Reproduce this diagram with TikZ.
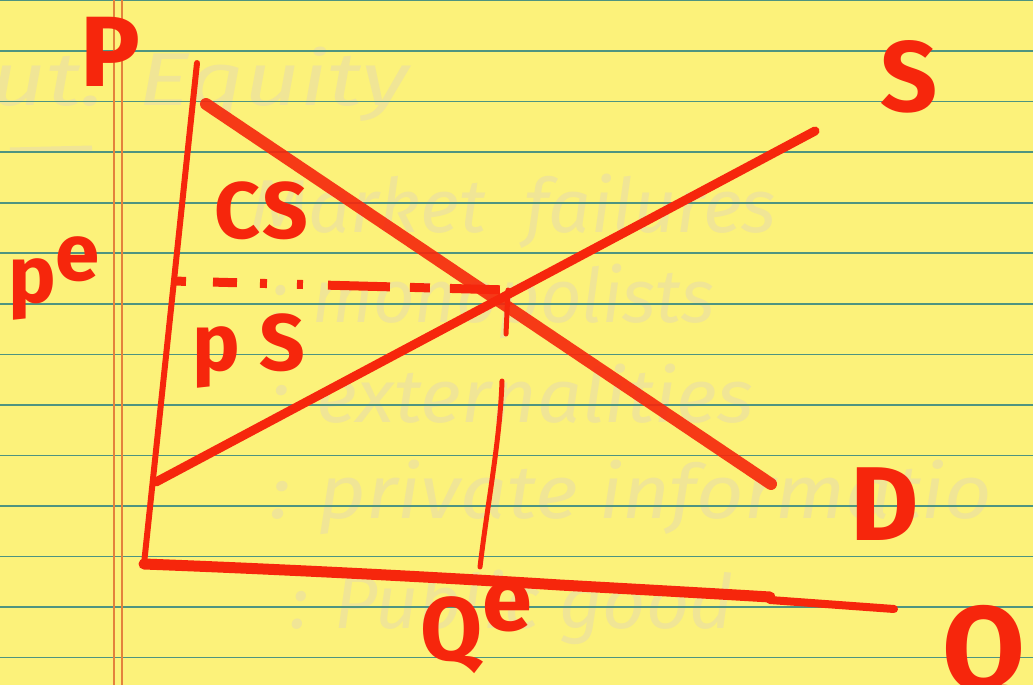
\documentclass[tikz,border=0pt]{standalone}
\usepackage{fontspec}
\setmainfont{Fira Sans}
\definecolor{paper}{RGB}{252,242,122}
\definecolor{rule}{RGB}{78,148,128}
\definecolor{margin}{RGB}{228,130,60}
\definecolor{marker}{RGB}{246,38,12}
\definecolor{ghost}{RGB}{240,229,150}
\tikzset{
  lab/.style={text=marker, inner sep=0pt, font=\bfseries\fontsize{#1}{#1}\selectfont},
  lab/.default=90,
  ghosttext/.style={text=ghost, inner sep=0pt, anchor=base west, transform shape, font=\itshape\fontsize{75}{75}\selectfont},
  pen/.style={draw=marker, line width=#1, line cap=round, line join=round},
  pen/.default=9
}
\begin{document}
\begin{tikzpicture}[x=1pt,y=-1pt]
\clip (0,0) rectangle (1033,685);
\fill[paper] (0,0) rectangle (1033,685);
% ghost (show-through) handwriting
\node[ghosttext, xscale=1.3] (g1) at (-10,105) {ut: Equity};
\draw[ghost, line width=5] (10,150) -- (92,148);
\node[ghosttext, xscale=1.0] (g2) at (250,232) {Market\ \ failures};
\node[ghosttext, xscale=0.96] (g3) at (270,322) {: monopolists};
\node[ghosttext, xscale=1.05] (g4) at (270,422) {: externalities};
\node[ghosttext, xscale=1.1] (g5) at (270,518) {: private informatio};
\node[ghosttext, xscale=1.0] (g6) at (290,628) {: Public good};
% ruled lines
\foreach \k in {0,...,13}{
  \draw[rule, line width=1.6] (0,{0.5+50.55*\k}) -- (1033,{0.5+50.55*\k});
}
% margin lines
\draw[margin, line width=1.8] (114,0) -- (114,685);
\draw[margin, line width=1.8] (122,0) -- (122,685);
% coordinates
\coordinate (O) at (144,564);
\coordinate (Ytop) at (197,63);
\coordinate (Xend) at (894,609);
\coordinate (Dtop) at (206,104);
\coordinate (Dbot) at (771,484);
\coordinate (Sbot) at (156,482);
\coordinate (Stop) at (815,131);
\coordinate (E) at (508,290);
\coordinate (PeAxis) at (172,281);
\coordinate (Ttick) at (506,334);
\coordinate (Qtop) at (502,381);
\coordinate (Qbot) at (480,567);
% axes
\draw[pen=6] (Ytop) -- (O);
\draw[pen=11] (O) .. controls (300,570) and (450,578) .. (560,585)
   .. controls (650,590) and (720,594) .. (770,597);
\draw[pen=8] (770,600) -- (Xend);
% supply and demand
\draw[pen=12, draw opacity=0.9] (Dtop) -- (Dbot);
\draw[pen=9] (Sbot) -- (Stop);
% equilibrium guides
\draw[pen=9, line cap=butt, dash pattern=on 14 off 27 on 24 off 23 on 7 off 30 on 6 off 25 on 62 off 20 on 20 off 20 on 50] (PeAxis) -- (E);
\draw[pen=5] (E) -- (Ttick);
\draw[pen=5] (Qtop) .. controls (500,440) and (488,500) .. (Qbot);
% labels
\node[lab=100, anchor=base west] (P) at (80,86) {P};
\node[lab=80, anchor=base west] (CS) at (214,238) {C\kern2pt S};
\node[lab=80, anchor=base west] (pe) at (8,302) {p\raisebox{22pt}{e}};
\node[lab=80, anchor=base west] (PS) at (192,370) {p\kern20pt S};
\node[lab=100, anchor=base west] (Slab) at (880,111) {S};
\node[lab=105, anchor=base west] (Dlab) at (850,540) {D};
\node[lab=90, anchor=base west] (Qe) at (420,660) {Q\raisebox{30pt}{e}};
\node[lab=120, anchor=base west] (Qlab) at (942,690) {Q};
\end{tikzpicture}
\end{document}
